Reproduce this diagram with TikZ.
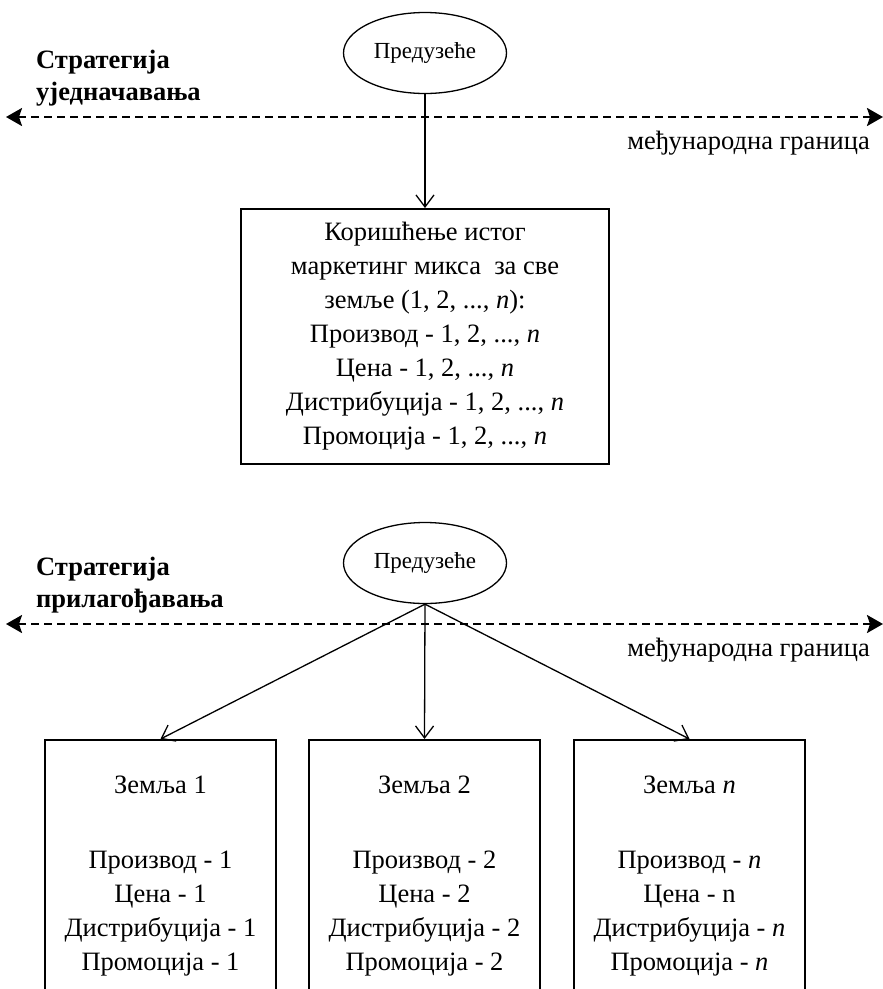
\documentclass[tikz,border=0pt]{standalone}
\usepackage{fontspec}
\setmainfont{Liberation Serif}
\usetikzlibrary{arrows.meta, positioning, shapes.geometric}

\begin{document}
\begin{tikzpicture}[x=1pt, y=-1pt, >={Straight Barb[length=12pt,width=18pt]},
    font=\fontsize{26.5}{34}\selectfont]
  \tikzset{
    firm/.style={draw, ellipse, line width=1.3pt, minimum width=163pt,
      minimum height=81pt, inner sep=0pt, font=\fontsize{23}{26}\selectfont},
    box/.style={draw, line width=2pt, align=center, inner sep=0pt},
    mix/.style={box, minimum width=368pt, minimum height=255pt},
    land/.style={box, minimum width=231pt, minimum height=272pt},
    border/.style={{Stealth[length=16pt,width=18pt,inset=3pt]}-{Stealth[length=16pt,width=18pt,inset=3pt]},
      line width=2.3pt, dash pattern=on 8pt off 5pt},
    strat/.style={align=left, anchor=west, inner sep=0pt,
      font=\fontsize{26.5}{32}\selectfont\bfseries},
    lim/.style={anchor=east, inner sep=0pt},
    arr/.style={->, line width=1.3pt},
  }
  \useasboundingbox (0,0) rectangle (883,989);
  % Top: same mix
  \node[firm] (f1) at (425,53) {Предузеће};
  \node[strat] (s1) at (36,78) {Стратегија\\уједначавања};
  \coordinate (bl1) at (6,117); \coordinate (br1) at (883,117);
  \draw[border] (bl1) -- (br1);
  \node[lim] (g1) at (870,143) {међународна граница};
  \node[mix] (mx) at (425,336.5) {Коришћење истог\\маркетинг микса~ за све\\
    земље (1, 2, ..., \textit{n}):\\Производ - 1, 2, ..., \textit{n}\\
    Цена - 1, 2, ..., \textit{n}\\Дистрибуција - 1, 2, ..., \textit{n}\\
    Промоција - 1, 2, ..., \textit{n}};
  \draw[arr] (f1) -- (mx);
  % Bottom: adapted mix
  \node[firm] (f2) at (425,563) {Предузеће};
  \node[strat] (s2) at (36,585) {Стратегија\\прилагођавања};
  \coordinate (bl2) at (6,624); \coordinate (br2) at (883,624);
  \draw[border] (bl2) -- (br2);
  \node[lim] (g2) at (870,650) {међународна граница};
  \node[land] (c1) at (160.5,876) {Земља 1\\[41pt]Производ - 1\\Цена - 1\\
    Дистрибуција - 1\\Промоција - 1};
  \node[land] (c2) at (424.5,876) {Земља 2\\[41pt]Производ - 2\\Цена - 2\\
    Дистрибуција - 2\\Промоција - 2};
  \node[land] (cn) at (689.5,876) {Земља \textit{n}\\[41pt]Производ - \textit{n}\\
    Цена - n\\Дистрибуција - \textit{n}\\Промоција - \textit{n}};
  \draw[arr] (f2.south) -- (c1.north);
  \draw[arr] (f2.south) -- (c2.north);
  \draw[arr] (f2.south) -- (cn.north);
\end{tikzpicture}
\end{document}
